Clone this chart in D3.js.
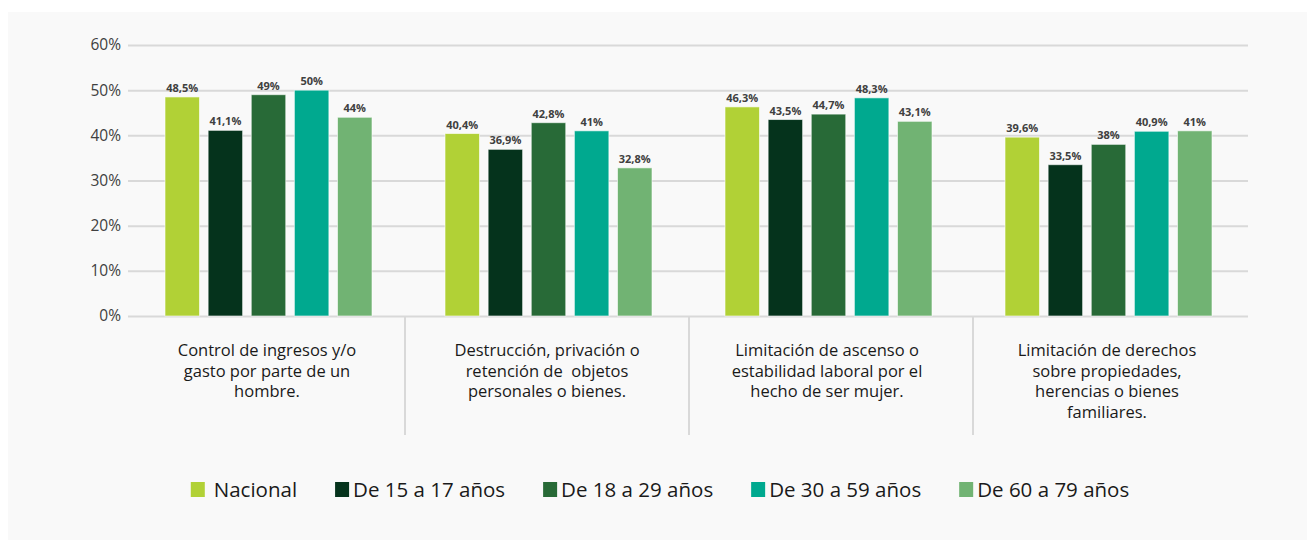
<!DOCTYPE html>
<html>
<head>
<meta charset="utf-8">
<script src="https://cdn.jsdelivr.net/npm/d3@7"></script>
<style>
  body { margin: 0; background: #ffffff; }
  svg { display: block; font-family: "Open Sans", sans-serif; }
</style>
</head>
<body>
<svg id="chart" width="1315" height="542"></svg>
<script>
// categories (each one split in the lines shown under the axis)
let categories = [
  ['Control de ingresos y/o', 'gasto por parte de un', 'hombre.'],
  ['Destrucción, privación o', 'retención de  objetos', 'personales o bienes.'],
  ['Limitación de ascenso o', 'estabilidad laboral por el', 'hecho de ser mujer.'],
  ['Limitación de derechos', 'sobre propiedades,', 'herencias o bienes', 'familiares.']
]
let series = ['Nacional', 'De 15 a 17 años', 'De 18 a 29 años', 'De 30 a 59 años', 'De 60 a 79 años']
let colors = ['#b1d136', '#05331c', '#286a37', '#00a98f', '#71b373']

// values per series, one per category
let nacional = [48.5, 40.4, 46.3, 39.6]
let de15a17 = [41.1, 36.9, 43.5, 33.5]
let de18a29 = [49, 42.8, 44.7, 38]
let de30a59 = [50, 41, 48.3, 40.9]
let de60a79 = [44, 32.8, 43.1, 41]
let yTicks = [0, 10, 20, 30, 40, 50, 60]

let values = [nacional, de15a17, de18a29, de30a59, de60a79]
let keys = categories.map((c, i) => 'c' + i)

let svg = d3.select('#chart')

// light panel behind everything
svg.append('rect')
  .attr('x', 8).attr('y', 12)
  .attr('width', 1299).attr('height', 528)
  .attr('fill', '#f9f9f9')

let plotTop = 45, plotBottom = 316

let y = d3.scaleLinear().domain([0, 60]).range([plotBottom, plotTop])
let x0 = d3.scaleBand().domain(keys).range([128, 1248])
let x1 = d3.scaleBand().domain(series).range([37, 244]).paddingInner(0.2)
// excel draws the category separators on a slightly wider band
let xSep = d3.scaleBand().domain(keys).range([121, 1257])

// gridlines + y labels
let yAxis = svg.append('g')
  .attr('transform', 'translate(128,0)')
  .call(d3.axisLeft(y).tickValues(yTicks).tickSize(-1120).tickPadding(7).tickFormat(d => d + '%'))
yAxis.select('.domain').remove()
yAxis.selectAll('line').attr('stroke', '#d9d9d9').attr('stroke-width', 2)
yAxis.selectAll('text')
  .attr('fill', '#404040')
  .style('font-size', '15.5px')
  .style('font-family', '"Open Sans", sans-serif')

// category separators
svg.append('g').selectAll('line')
  .data(keys.slice(1))
  .enter()
  .append('line')
  .attr('x1', d => xSep(d)).attr('x2', d => xSep(d))
  .attr('y1', plotBottom).attr('y2', 435)
  .attr('stroke', '#d9d9d9')
  .attr('stroke-width', 2)

// bars
let groups = svg.append('g').selectAll('g')
  .data(keys)
  .enter()
  .append('g')
  .attr('transform', d => 'translate(' + x0(d) + ',0)')

groups.each(function(k, ci) {
  let g = d3.select(this)
  let rows = series.map((s, si) => ({s: s, v: values[si][ci], c: colors[si]}))
  g.selectAll('rect')
    .data(rows)
    .enter()
    .append('rect')
    .attr('x', d => x1(d.s))
    .attr('width', x1.bandwidth())
    .attr('y', d => y(d.v))
    .attr('height', d => plotBottom - y(d.v))
    .attr('fill', d => d.c)
    .attr('stroke', '#ffffff')
    .attr('stroke-opacity', 0.6)
    .attr('stroke-width', 1)
  g.selectAll('text')
    .data(rows)
    .enter()
    .append('text')
    .attr('x', d => x1(d.s) + x1.bandwidth() / 2)
    .attr('y', d => y(d.v) - 5)
    .attr('text-anchor', 'middle')
    .attr('fill', '#404040')
    .style('font-size', '11px')
    .style('font-weight', 'bold')
    .text(d => String(d.v).replace('.', ',') + '%')
})

// category labels
categories.forEach((lines, i) => {
  let cx = x0(keys[i]) + x0.bandwidth() / 2 - 1
  let t = svg.append('text')
    .attr('text-anchor', 'middle')
    .attr('fill', '#1a1a1a')
    .style('font-size', '16.5px')
    .style('white-space', 'pre')
  lines.forEach((l, j) => {
    t.append('tspan')
      .attr('x', cx)
      .attr('y', 356 + j * 20.5)
      .text(l)
  })
})

// legend
let legend = svg.append('g')
let lx = 0
series.forEach((s, i) => {
  let item = legend.append('g')
  item.append('rect')
    .attr('x', 0).attr('y', -8)
    .attr('width', 14).attr('height', 15)
    .attr('fill', colors[i])
  let t = item.append('text')
    .attr('x', i == 0 ? 23 : 18)
    .attr('y', 7)
    .attr('fill', '#1a1a1a')
    .style('font-size', '20.5px')
    .text(s)
  let w = (i == 0 ? 23 : 18) + t.node().getComputedTextLength()
  item.attr('transform', 'translate(' + lx + ',0)')
  lx += w + 38
})
lx -= 38
legend.attr('transform', 'translate(' + (660 - lx / 2) + ',490)')
</script>
</body>
</html>
